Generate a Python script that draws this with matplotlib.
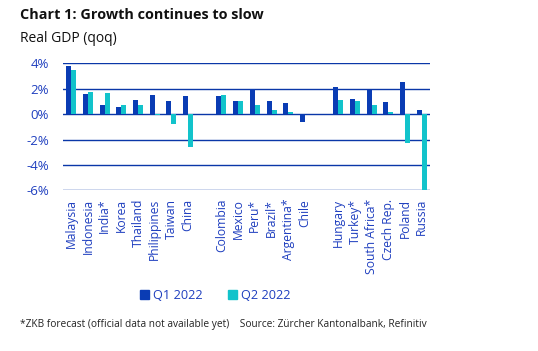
import numpy as np
import matplotlib
matplotlib.use("Agg")
import matplotlib.pyplot as plt
from matplotlib.patches import Patch

plt.rcParams['font.family'] = ['Open Sans', 'DejaVu Sans']

countries = ["Malaysia", "Indonesia", "India*", "Korea", "Thailand", "Philippines", "Taiwan", "China",
             "",
             "Colombia", "Mexico", "Peru*", "Brazil*", "Argentina*", "Chile",
             "",
             "Hungary", "Turkey*", "South Africa*", "Czech Rep.", "Poland", "Russia"]
q1 = [3.8, 1.6, 0.75, 0.6, 1.15, 1.5, 1.05, 1.4,
      np.nan,
      1.4, 1.0, 1.95, 1.0, 0.9, -0.6,
      np.nan,
      2.1, 1.2, 1.9, 0.95, 2.5, 0.35]
q2 = [3.5, 1.75, 1.65, 0.7, 0.7, -0.08, -0.75, -2.55,
      np.nan,
      1.5, 1.0, 0.7, 0.3, 0.2, 0.0,
      np.nan,
      1.1, 1.0, 0.7, 0.2, -2.3, -6.0]
yticks = [4, 2, 0, -2, -4, -6]

c1 = "#0a3cb4"
c2 = "#12c3cb"
blue_txt = "#1f3fbf"
grid_c = "#0a37a8"

W, H = 538, 351
fig = plt.figure(figsize=(W / 100, H / 100), dpi=100)
ax = fig.add_axes([63 / W, 1 - 190.5 / H, (430 - 63) / W, (190.5 - 63.3) / H])

x = np.arange(len(countries))
w = 0.3
ax.bar(x - w / 2, q1, w, color=c1, zorder=3)
ax.bar(x + w / 2, q2, w, color=c2, zorder=3)

ax.set_ylim(-6, 4)
ax.set_xlim(-0.5, len(countries) - 0.5)
ax.set_yticks(yticks)
ax.set_yticklabels([f"{v}%" for v in yticks], color=blue_txt, fontsize=9.5)
for v in yticks:
    ax.axhline(v, color=grid_c, lw=1.0, zorder=1)
ax.set_xticks(x)
ax.set_xticklabels(countries, rotation=90, color=blue_txt, fontsize=8.7)
ax.tick_params(length=0, pad=6)
ax.tick_params(axis='y', pad=10)
for s in ax.spines.values():
    s.set_visible(False)

fig.text(20 / W, 1 - 15 / H, "Chart 1: Growth continues to slow", fontsize=10.4,
         fontweight='bold', color="#111111", va='center')
fig.text(20 / W, 1 - 38 / H, "Real GDP (qoq)", fontsize=10, color="#111111", va='center')

handles = [Patch(color=c1, label="Q1 2022"), Patch(color=c2, label="Q2 2022")]
fig.legend(handles=handles, loc='center', bbox_to_anchor=(215 / W, 1 - 295.5 / H), ncol=2,
           frameon=False, fontsize=9.2, handlelength=0.7, handleheight=0.7,
           handletextpad=0.3, columnspacing=2.0, labelcolor=blue_txt)

fig.text(20 / W, 1 - 325 / H,
         "*ZKB forecast (official data not available yet)    Source: Zürcher Kantonalbank, Refinitiv",
         fontsize=7.3, color="#222222", va='center')

fig.savefig("out.png", dpi=100)
